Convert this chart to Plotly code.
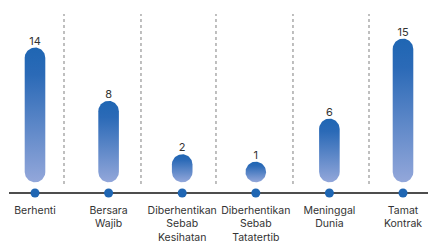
import numpy as np
import plotly.graph_objects as go

# ---- data ----
categories = ["Berhenti", "Bersara<br>Wajib", "Diberhentikan<br>Sebab<br>Kesihatan",
              "Diberhentikan<br>Sebab<br>Tatatertib", "Meninggal<br>Dunia", "Tamat<br>Kontrak"]
values = [14, 8, 2, 1, 6, 15]

# ---- geometry / style ----
W, H = 428, 244
MB = 51
PH = H - MB                 # plot height in px
CAT_PX = 73.6               # px per category
X0_PX = 35                  # px of first category centre
K = 8.89                    # px per value unit
Y0_PX = 172                 # px (from top) where value 0 lies
R_PX = 10.3                 # pill half width / cap radius

xr = [-X0_PX / CAT_PX, (W - X0_PX) / CAT_PX]
yr = [-(PH - Y0_PX) / K, Y0_PX / K]
rx = R_PX / CAT_PX
ry = R_PX / K

DARK = "#1f66b3"
LIGHT = "#93a7da"

fig = go.Figure()

pos = list(range(len(values)))
tops = []
for i, v in zip(pos, values):
    yb = 0.0
    yt = max(v - ry, yb)
    tops.append(yt + ry)
    a1 = np.linspace(0, np.pi, 40)
    a2 = np.linspace(np.pi, 2 * np.pi, 40)
    xs = np.concatenate([i + rx * np.cos(a1), i + rx * np.cos(a2)])
    ys = np.concatenate([yt + ry * np.sin(a1), yb + ry * np.sin(a2)])
    xs = np.append(xs, xs[0])
    ys = np.append(ys, ys[0])
    fig.add_trace(go.Scatter(
        x=xs, y=ys, mode="lines", fill="toself",
        line=dict(width=0, color=DARK),
        fillgradient=dict(type="vertical",
                          colorscale=[[0, LIGHT], [0.8, "#2b6ab7"], [1, DARK]]),
        hoverinfo="skip", showlegend=False))

# value labels
fig.add_trace(go.Scatter(
    x=pos, y=tops, mode="text", text=[str(v) for v in values],
    textposition="top center",
    textfont=dict(family="Inter", size=11, color="#333333"),
    hoverinfo="skip", showlegend=False, cliponaxis=False))

# dots on axis
fig.add_trace(go.Scatter(
    x=pos, y=[yr[0]] * len(pos), mode="markers",
    marker=dict(size=9, color=DARK),
    hoverinfo="skip", showlegend=False, cliponaxis=False))

shapes = [dict(type="line", xref="paper", yref="paper", x0=9 / W, x1=1, y0=0, y1=0,
               line=dict(color="#4d4d4d", width=2), layer="below")]
for d in [0.394, 1.44, 2.459, 3.505, 4.538]:
    shapes.append(dict(type="line", xref="x", yref="paper", x0=d, x1=d,
                       y0=(PH - 184) / PH, y1=(PH - 14) / PH,
                       line=dict(color="#aaaaaa", width=1.5, dash="dot"), layer="below"))

fig.update_layout(
    width=W, height=H,
    margin=dict(l=0, r=0, t=0, b=MB),
    paper_bgcolor="white", plot_bgcolor="white",
    shapes=shapes,
    hovermode=False,
    xaxis=dict(range=xr, tickvals=pos, ticktext=categories, showgrid=False,
               zeroline=False, showline=False, ticks="", tickangle=0,
               automargin=False, ticklabelstandoff=9,
               tickfont=dict(family="Inter", size=10.5, color="#333333")),
    yaxis=dict(range=yr, visible=False, showgrid=False, zeroline=False,
               automargin=False),
)

fig.write_html("out.html",
               config={"displayModeBar": False, "staticPlot": True},
               post_script="document.body.style.margin='0';document.body.style.overflow='hidden';")
